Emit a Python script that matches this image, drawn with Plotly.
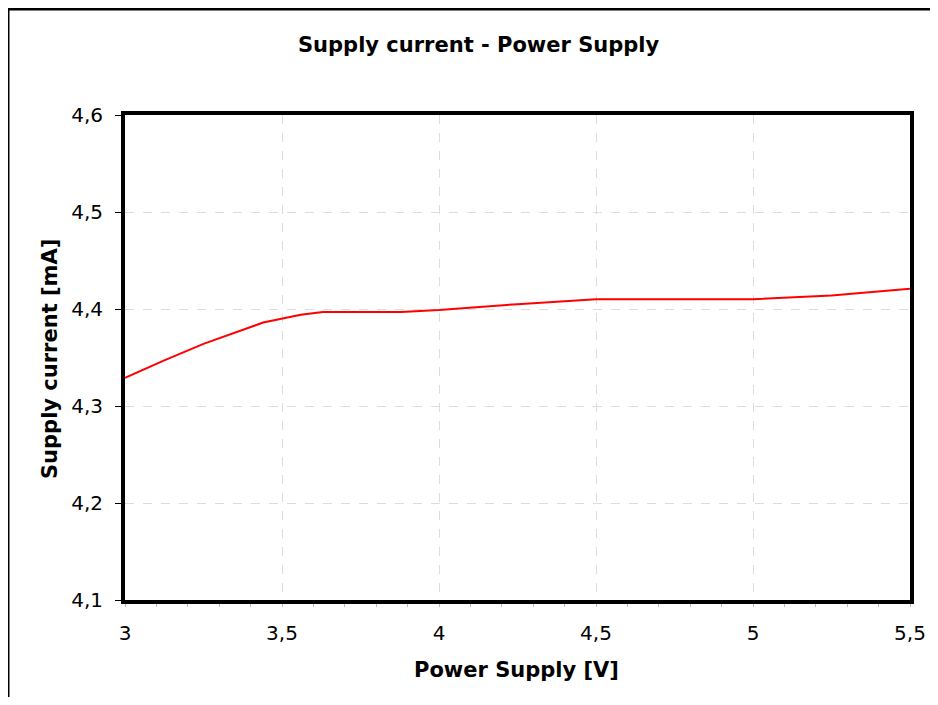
import plotly.graph_objects as go

supply_v = [3.0, 3.125, 3.25, 3.44, 3.56, 3.63, 3.88, 4.0, 4.25, 4.5, 5.0, 5.25, 5.5]
current_ma = [4.329, 4.347, 4.364, 4.386, 4.394, 4.397, 4.397, 4.399, 4.405, 4.410, 4.410, 4.414, 4.421]

x_ticks = [3, 3.5, 4, 4.5, 5, 5.5]
y_ticks = [4.1, 4.2, 4.3, 4.4, 4.5, 4.6]

FONT = "DejaVu Sans"

fig = go.Figure()
fig.add_trace(go.Scatter(x=supply_v, y=current_ma, mode="lines",
                         line=dict(color="#ff0000", width=2), showlegend=False))

# page body has an 8px margin; figure placed at (8, 8)
OFF = 8
W, H = 938 - 2 * OFF, 705 - 2 * OFF
PL, PT, PR, PB = 125, 115, 910, 600  # plot area in window pixels
L, T = PL - OFF, PT - OFF
R = W - (PR - OFF)
B = H - (PB - OFF)
pw = PR - PL
ph = PB - PT


def px(x):
    return (x - PL) / pw


def py(y):
    return (PB - y) / ph


fig.update_layout(
    width=W, height=H,
    margin=dict(l=L, r=R, t=T, b=B, autoexpand=False),
    paper_bgcolor="white", plot_bgcolor="white",
    separators=",.",
    font=dict(family=FONT, color="black"),
)

fig.update_xaxes(
    range=[3, 5.5], tickvals=x_ticks, ticktext=[f"{v:g}".replace(".", ",") for v in x_ticks],
    showline=True, linecolor="black", linewidth=4, mirror=True,
    ticks="outside", ticklen=12, tickcolor="rgba(0,0,0,0)",
    showgrid=True, gridcolor="#dcdcdc", griddash="dash", gridwidth=1,
    zeroline=False,
    tickfont=dict(size=20, family=FONT, color="black"),
    minor=dict(dtick=0.1, ticks="outside", ticklen=3, tickcolor="#bbbbbb", showgrid=False),
)
fig.update_yaxes(
    range=[4.1, 4.6], tickvals=y_ticks, ticktext=[f"{v:g}".replace(".", ",") for v in y_ticks],
    showline=True, linecolor="black", linewidth=4, mirror=True,
    ticks="outside", ticklen=6, tickcolor="black", tickwidth=1,
    ticklabelstandoff=8,
    showgrid=True, gridcolor="#dcdcdc", griddash="dash", gridwidth=1,
    zeroline=False,
    tickfont=dict(size=20, family=FONT, color="black"),
)

tfont = dict(size=21, family=FONT, color="black")
fig.add_annotation(text="<b>Supply current - Power Supply</b>", xref="paper", yref="paper",
                   x=px(478), y=py(45), xanchor="center", yanchor="middle", showarrow=False, font=tfont)
fig.add_annotation(text="<b>Power Supply [V]</b>", xref="paper", yref="paper",
                   x=px(516), y=py(670), xanchor="center", yanchor="middle", showarrow=False, font=tfont)
fig.add_annotation(text="<b>Supply current [mA]</b>", xref="paper", yref="paper",
                   x=px(50), y=py(359), xanchor="center", yanchor="middle", showarrow=False,
                   textangle=-90, font=tfont)

# outer frame (top and left edges visible in the reference)
fig.add_shape(type="line", xref="paper", yref="paper", x0=px(8), x1=px(960), y0=py(9), y1=py(9),
              line=dict(color="black", width=3))
fig.add_shape(type="line", xref="paper", yref="paper", x0=px(8), x1=px(8), y0=py(9), y1=py(720),
              line=dict(color="black", width=3))

fig.write_html("out.html")
